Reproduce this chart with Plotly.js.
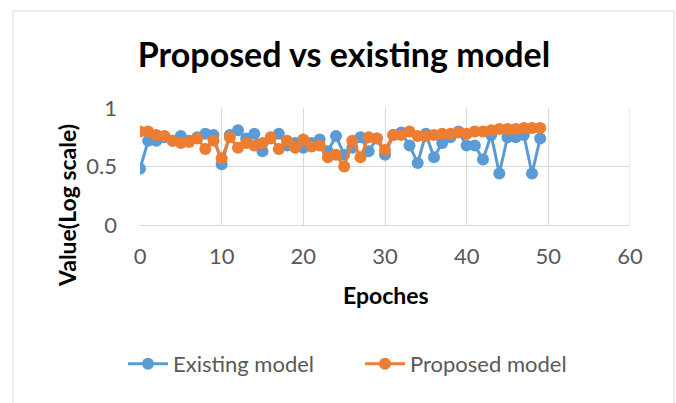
<!DOCTYPE html>
<html>
<head>
<meta charset="utf-8">
<script src="https://cdn.plot.ly/plotly-3.0.1.min.js"></script>
<style>
  html, body { margin: 0; padding: 0; background: #ffffff; }
  #chart { width: 676px; height: 403px; }
</style>
</head>
<body>
<div id="chart"></div>
<script>
// Epoch index for both series
const epochs = [];
for (let i = 0; i < 50; i++) epochs.push(i);

// Existing model values per epoch
const existingModel = [
  0.48, 0.72, 0.72, 0.75, 0.72, 0.76, 0.72, 0.75, 0.78, 0.77,
  0.52, 0.77, 0.81, 0.74, 0.78, 0.63, 0.74, 0.78, 0.68, 0.70,
  0.66, 0.70, 0.73, 0.63, 0.76, 0.60, 0.66, 0.75, 0.63, 0.74,
  0.60, 0.77, 0.79, 0.68, 0.53, 0.78, 0.58, 0.70, 0.75, 0.80,
  0.68, 0.68, 0.56, 0.77, 0.44, 0.75, 0.75, 0.77, 0.44, 0.74
];

// Proposed model values per epoch
const proposedModel = [
  0.80, 0.80, 0.77, 0.76, 0.72, 0.70, 0.71, 0.74, 0.65, 0.72,
  0.57, 0.75, 0.66, 0.70, 0.68, 0.70, 0.75, 0.65, 0.72, 0.66,
  0.73, 0.67, 0.68, 0.58, 0.60, 0.50, 0.72, 0.58, 0.75, 0.74,
  0.64, 0.77, 0.77, 0.80, 0.76, 0.76, 0.77, 0.78, 0.78, 0.79,
  0.78, 0.80, 0.80, 0.81, 0.82, 0.82, 0.82, 0.83, 0.83, 0.83
];

const FONT = 'Lato, "Open Sans", "Liberation Sans", sans-serif';
const BLUE = '#5B9BD5';
const ORANGE = '#ED7D31';
const GRID = '#D9D9D9';
const TEXT = '#595959';

// plot area in pixels: x 140..630, y 108..225
const PL = 140, PR = 630, PT = 108, PB = 225;
const px2x = p => (p - PL) / (PR - PL);
const px2y = p => (PB - p) / (PB - PT);

const traces = [
  {
    x: epochs, y: existingModel, name: 'Existing model',
    type: 'scatter', mode: 'lines+markers',
    line: { color: BLUE, width: 3 },
    marker: { color: BLUE, size: 12 }
  },
  {
    x: epochs, y: proposedModel, name: 'Proposed model',
    type: 'scatter', mode: 'lines+markers',
    line: { color: ORANGE, width: 3 },
    marker: { color: ORANGE, size: 12 }
  }
];

const layout = {
  width: 676, height: 403,
  margin: { l: PL, r: 676 - PR, t: PT, b: 403 - PB },
  paper_bgcolor: '#ffffff', plot_bgcolor: '#ffffff',
  font: { family: FONT, color: TEXT },
  title: {
    text: 'Proposed vs existing model',
    font: { family: FONT, size: 34, color: '#000000', weight: 'bold' },
    xref: 'container', x: 344 / 676, xanchor: 'center',
    yref: 'container', y: 1 - 55 / 403, yanchor: 'middle'
  },
  xaxis: {
    range: [0, 60], dtick: 10, tick0: 0,
    showgrid: true, gridcolor: GRID, gridwidth: 1,
    zeroline: false, showline: true, linecolor: GRID, mirror: false,
    ticks: '', tickfont: { size: 22, color: TEXT },
    ticklabelstandoff: 12
  },
  yaxis: {
    range: [0, 1], dtick: 0.5, tick0: 0,
    showgrid: true, gridcolor: GRID, gridwidth: 1,
    zeroline: false, showline: false,
    ticks: '', tickfont: { size: 22, color: TEXT },
    ticklabelstandoff: 22
  },
  annotations: [
    {
      text: '<b>Epoches</b>', xref: 'paper', yref: 'paper',
      x: px2x(386), y: px2y(295), xanchor: 'center', yanchor: 'middle',
      showarrow: false, font: { size: 23, color: '#000000' }
    },
    {
      text: '<b>Value(Log scale)</b>', xref: 'paper', yref: 'paper',
      x: px2x(67), y: px2y(206), xanchor: 'center', yanchor: 'middle',
      textangle: -90, showarrow: false, font: { size: 23, color: '#000000' }
    }
  ],
  showlegend: true,
  legend: {
    orientation: 'h',
    x: px2x(360), xanchor: 'center',
    y: px2y(364), yanchor: 'middle',
    font: { size: 22, color: TEXT },
    itemwidth: 40,
    entrywidth: 182
  },
  shapes: [
    // thin frame around the whole chart
    {
      type: 'rect', xref: 'paper', yref: 'paper', layer: 'below',
      x0: px2x(13), x1: px2x(674),
      y0: px2y(420), y1: px2y(11),
      line: { color: GRID, width: 1 }, fillcolor: 'rgba(0,0,0,0)'
    },
    // gridline at x = 60 closing the plot area
    {
      type: 'line', xref: 'x', yref: 'paper', layer: 'below',
      x0: 60, x1: 60, y0: 0, y1: 1,
      line: { color: GRID, width: 1 }
    }
  ]
};

Plotly.newPlot('chart', traces, layout, { displayModeBar: false, staticPlot: true });
</script>
</body>
</html>
